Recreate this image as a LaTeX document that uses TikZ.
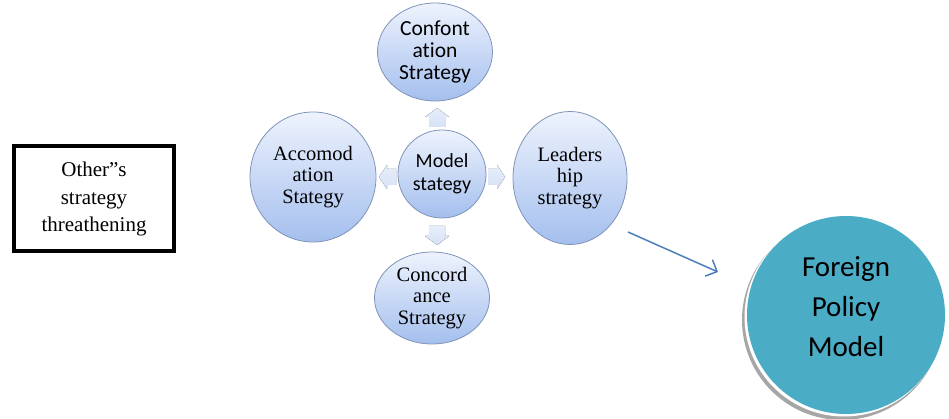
\documentclass[tikz,border=0pt]{standalone}
\usepackage{fontspec}
\setmainfont{Liberation Serif}
\newfontfamily\calfont[Ligatures={NoCommon}]{Carlito}
\usetikzlibrary{shapes.geometric,arrows.meta}
\definecolor{elborder}{HTML}{7F93B8}
\definecolor{eltop}{HTML}{EEF3FD}
\definecolor{elbot}{HTML}{A4BFEE}
\definecolor{fpfill}{HTML}{4BACC6}
\definecolor{arrblue}{HTML}{4A7EBB}
\definecolor{blkarr}{HTML}{D6E2F7}
\tikzset{
  ell/.style={ellipse, draw=elborder, line width=0.8pt, top color=eltop, bottom color=elbot, align=center, inner sep=0pt},
  serifel/.style={ell, font=\fontsize{20.5}{21.5}\selectfont},
  sansel/.style={ell, font=\calfont\fontsize{21.5}{22}\selectfont},
  blk/.style={top color=blkarr!60, bottom color=blkarr, draw=none},
}
\begin{document}
\begin{tikzpicture}[x=1pt,y=-1pt]
\useasboundingbox (0,0) rectangle (949,419);
% block arrows
\fill[blk] (429,127) -- (429,117) -- (425,117) -- (437,108) -- (449,117) -- (445,117) -- (445,127) -- cycle;
\fill[blk] (429,226) -- (429,236) -- (425,236) -- (437,245) -- (449,236) -- (445,236) -- (445,226) -- cycle;
\fill[blk] (396,169) -- (387,169) -- (387,165) -- (379,177) -- (387,189) -- (387,185) -- (396,185) -- cycle;
\fill[blk] (488,169) -- (497,169) -- (497,165) -- (505,177) -- (497,189) -- (497,185) -- (488,185) -- cycle;
% ellipses
\node[sansel, minimum width=115pt, minimum height=98pt] (top) at (435,52) {Confont\\ation\\Strategy};
\node[serifel, minimum width=126pt, minimum height=130pt] (left) at (313,177) {Accomod\\ation\\Stategy};
\node[ell, font=\calfont\fontsize{20}{23}\selectfont, minimum width=88pt, minimum height=88pt] (mid) at (442,174) {Model\\stategy};
\node[serifel, minimum width=114pt, minimum height=133pt] (right) at (570,178) {Leaders\\hip\\strategy};
\node[serifel, minimum width=115pt, minimum height=92pt] (bot) at (432,298) {Concord\\ance\\Strategy};
% box
\node[draw=black, line width=4pt, minimum width=160pt, minimum height=105pt, align=center, font=\fontsize{21}{27.5}\selectfont] (other) at (94,199) {Other''s\\strategy\\threathening};
% foreign policy
\fill[gray!70] (842,320) circle (100pt);
\fill[white] (844,317) circle (99.5pt);
\node[circle, fill=fpfill, minimum size=198pt, inner sep=0pt] (fp) at (846,315) {};
\node[align=center, font=\calfont\fontsize{29}{40}\selectfont, anchor=center] (fptext) at ([yshift=8pt]fp.center) {Foreign\\Policy\\Model};
% arrow
\coordinate (as) at (628,232);
\coordinate (ae) at (718,272);
\draw[arrblue, line width=1.5pt, -{Straight Barb[length=9pt,width=18pt]}] (as) -- (ae);
\end{tikzpicture}
\end{document}
